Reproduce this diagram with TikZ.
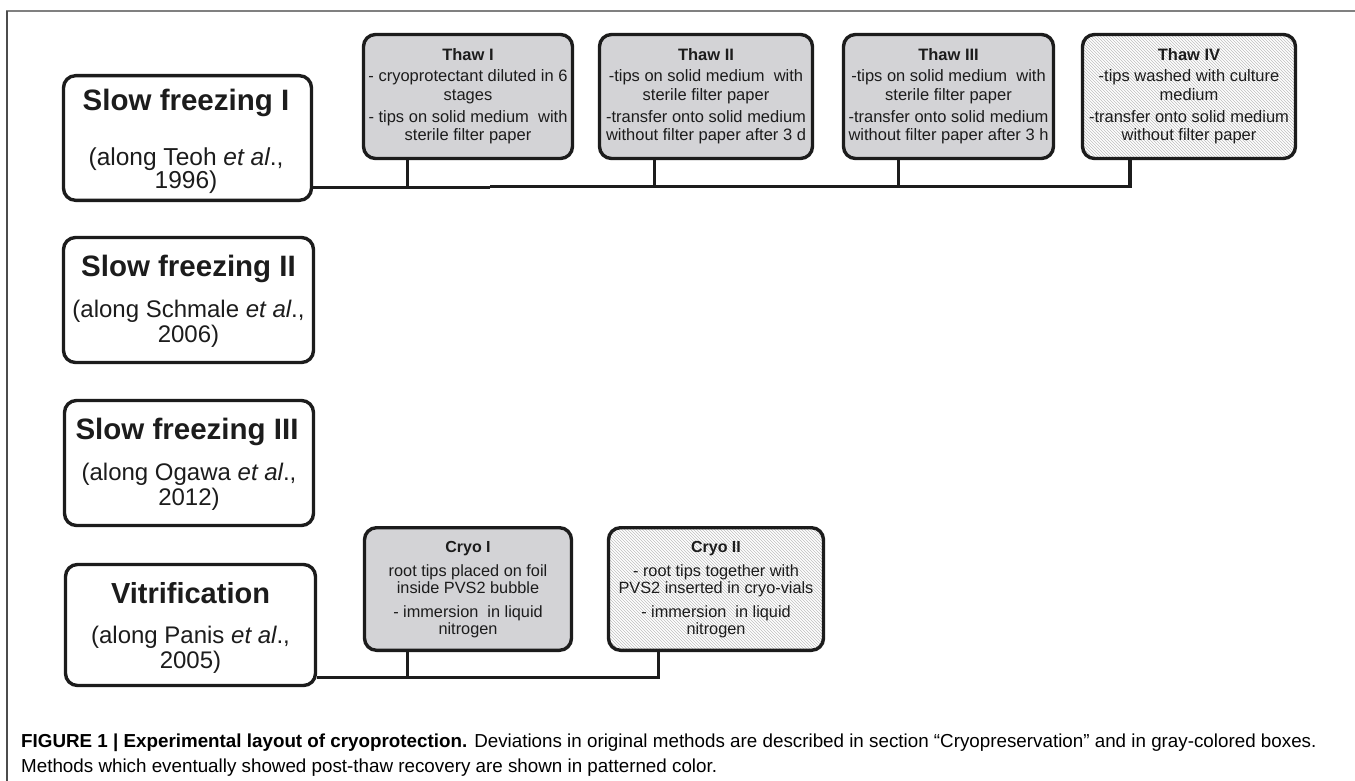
\documentclass[tikz,border=0pt]{standalone}
\usepackage{fontspec}
\setmainfont{Liberation Sans}
\usetikzlibrary{patterns}
\definecolor{boxgray}{RGB}{211,211,214}
\definecolor{ink}{RGB}{28,28,28}
\definecolor{framegray}{RGB}{128,128,128}
\begin{document}
\begin{tikzpicture}[x=1pt,y=-1pt,
  box/.style={draw=ink, line width=3.4pt, rounded corners=12pt, inner sep=0pt},
  whiteb/.style={box, fill=white},
  grayb/.style={box, fill=boxgray},
  patb/.style={box, preaction={pattern=north west lines, pattern color=black!25}},
  conn/.style={draw=ink, line width=3pt},
  txt/.style={anchor=base, inner sep=0pt, text=ink},
  bigtitle/.style={txt, font=\fontsize{29.5}{30}\selectfont\bfseries},
  subt/.style={txt, font=\fontsize{24}{25}\selectfont},
  thawtxt/.style={txt, font=\fontsize{16.5}{19}\selectfont},
  thawhd/.style={txt, font=\fontsize{16.5}{19}\selectfont\bfseries},
  cryotxt/.style={txt, font=\fontsize{16.3}{17}\selectfont},
  cryohd/.style={txt, font=\fontsize{16}{17}\selectfont\bfseries},
  captxt/.style={anchor=base west, inner sep=0pt, text=black, font=\fontsize{18.8}{22}\selectfont}
]
\useasboundingbox (0,0) rectangle (1355,781);
\fill[white] (0,0) rectangle (1355,781);
% frame
\draw[framegray, line width=2pt] (6,11) -- (1355,11);
\draw[black!70, line width=1.2pt] (7,11) -- (7,781);

% left method boxes
\node[whiteb, minimum width=248pt, minimum height=124.6pt] (sf1) at (187.5,138) {};
\node[whiteb, minimum width=250pt, minimum height=125pt] (sf2) at (188.5,300) {};
\node[whiteb, minimum width=249pt, minimum height=125pt] (sf3) at (189,463) {};
\node[whiteb, minimum width=250pt, minimum height=121pt] (vit) at (190.5,625) {};

% thaw boxes
\node[grayb, minimum width=209pt, minimum height=124pt] (t1) at (468,96.5) {};
\node[grayb, minimum width=213pt, minimum height=124pt] (t2) at (706,96.5) {};
\node[grayb, minimum width=210pt, minimum height=124pt] (t3) at (948.5,96.5) {};
\node[patb, minimum width=213pt, minimum height=124pt] (t4) at (1189,96.5) {};

% cryo boxes
\node[grayb, minimum width=207pt, minimum height=122.6pt] (c1) at (468,589) {};
\node[patb, minimum width=215pt, minimum height=122.6pt] (c2) at (716,589) {};

% connectors slow freezing I
\coordinate (j1) at (407,187.5);
\coordinate (jog) at (490,187.5);
\coordinate (jog2) at (490,186.5);
\coordinate (j2) at (654,186.5);
\coordinate (j3) at (898,186.5);
\coordinate (bus1) at (1130,186.5);
\draw[conn] (sf1.east |- j1) -- (jog);
\draw[conn, line width=3.4pt] (jog2) -- (bus1) -- (t4.south -| bus1);
\draw[conn] (t1.south -| j1) -- (j1);
\draw[conn] (t2.south -| j2) -- (j2);
\draw[conn] (t3.south -| j3) -- (j3);

% connectors vitrification
\coordinate (k1) at (407,677.5);
\coordinate (bus2) at (658,677.5);
\draw[conn] (vit.east |- bus2) -- (bus2) -- (c2.south -| bus2);
\draw[conn] (c1.south -| k1) -- (k1);

% left box texts
\node[bigtitle] (sf1h) at (186,111) {Slow freezing I};
\node[txt, font=\fontsize{24.5}{26}\selectfont] (sf1a) at (186,165) {(along Teoh \textit{et al}.,};
\node[txt, font=\fontsize{24.5}{26}\selectfont] (sf1b) at (186,188) {1996)};

\node[bigtitle] (sf2h) at (188.5,276) {Slow freezing II};
\node[subt] (sf2a) at (188.5,317) {(along Schmale \textit{et al}.,};
\node[subt] (sf2b) at (188.5,342) {2006)};

\node[bigtitle] (sf3h) at (187,439) {Slow freezing III};
\node[subt] (sf3a) at (189,480) {(along Ogawa \textit{et al}.,};
\node[subt] (sf3b) at (189,505) {2012)};

\node[txt, font=\fontsize{29}{30}\selectfont\bfseries] (vith) at (190.5,603) {Vitrification};
\node[subt] (vita) at (190.5,643) {(along Panis \textit{et al}.,};
\node[subt] (vitb) at (190.5,668) {2005)};

% thaw texts
\node[thawhd] (t1h) at (468,61) {Thaw I};
\node[thawtxt] (t1a) at (468,82) {- cryoprotectant diluted in 6};
\node[thawtxt] (t1b) at (468,101) {stages};
\node[thawtxt] (t1c) at (468,122.5) {- tips on solid medium~ with};
\node[thawtxt] (t1d) at (468,141) {sterile filter paper};

\node[thawhd] (t2h) at (706,61) {Thaw II};
\node[thawtxt] (t2a) at (706,82) {-tips on solid medium~ with};
\node[thawtxt] (t2b) at (706,101) {sterile filter paper};
\node[thawtxt] (t2c) at (706,122.5) {-transfer onto solid medium};
\node[thawtxt] (t2d) at (706,141) {without filter paper after 3 d};

\node[thawhd] (t3h) at (948.5,61) {Thaw III};
\node[thawtxt] (t3a) at (948.5,82) {-tips on solid medium~ with};
\node[thawtxt] (t3b) at (948.5,101) {sterile filter paper};
\node[thawtxt] (t3c) at (948.5,122.5) {-transfer onto solid medium};
\node[thawtxt] (t3d) at (948.5,141) {without filter paper after 3 h};

\node[thawhd] (t4h) at (1189,61) {Thaw IV};
\node[thawtxt] (t4a) at (1189,82) {-tips washed with culture};
\node[thawtxt] (t4b) at (1189,101) {medium};
\node[thawtxt] (t4c) at (1189,122.5) {-transfer onto solid medium};
\node[thawtxt] (t4d) at (1189,141) {without filter paper};

% cryo texts
\node[cryohd] (c1h) at (468,552) {Cryo I};
\node[cryotxt] (c1a) at (468,576) {root tips placed on foil};
\node[cryotxt] (c1b) at (468,593) {inside PVS2 bubble};
\node[cryotxt] (c1c) at (468,617) {- immersion~ in liquid};
\node[cryotxt] (c1d) at (468,634) {nitrogen};

\node[cryohd] (c2h) at (716,552) {Cryo II};
\node[cryotxt] (c2a) at (716,576) {- root tips together with};
\node[cryotxt] (c2b) at (716,593) {PVS2 inserted in cryo-vials};
\node[cryotxt] (c2c) at (716,617) {- immersion~ in liquid};
\node[cryotxt] (c2d) at (716,634) {nitrogen};

% caption
\node[captxt] (cap1) at (21,747.5) {\textbf{FIGURE 1 | Experimental layout of cryoprotection.} Deviations in original methods are described in section “Cryopreservation” and in gray-colored boxes.};
\node[captxt] (cap2) at (21,772.5) {Methods which eventually showed post-thaw recovery are shown in patterned color.};
\end{tikzpicture}
\end{document}
